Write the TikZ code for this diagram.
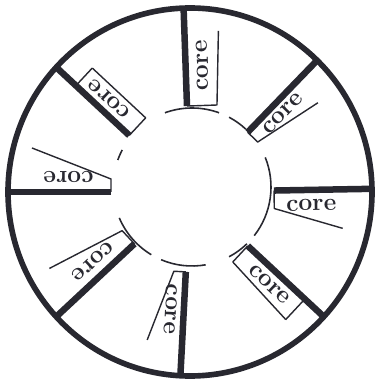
\documentclass[tikz,border=0pt]{standalone}
\usepackage{tikz}
\usetikzlibrary{calc}
\definecolor{ink}{RGB}{40, 40, 48}

\begin{document}
\begin{tikzpicture}[
    x=0.02cm, y=0.02cm,
    rim/.style={draw=ink, line width=3.2pt},
    spoke/.style={draw=ink, line width=3.7pt},
    hub/.style={draw=ink, line width=0.9pt},
    strip/.style={draw=ink, line width=0.8pt, line join=round},
    word/.style={font=\fontsize{14}{14}\selectfont\bfseries, text=ink, inner sep=0pt}
]
\useasboundingbox (0,0) rectangle (382,385);

\coordinate (oc) at (190,193);
\coordinate (ic) at (192,198);

%% ── RIM ─────────────────────────────────────────────────────────────────────
\draw[rim] (oc) ellipse [x radius=182, y radius=184];

%% ── HUB (broken inner circle) ───────────────────────────────────────────────
\foreach \sa/\ea in {70/110, 47/62, -38/22, -62/-46, -113/-80, -157/-121, 152/160}
  \draw[hub] ($(ic)+(\sa:79)$) arc[start angle=\sa, end angle=\ea, radius=79];

%% ── SPOKES + LABEL STRIPS ───────────────────────────────────────────────────
% angle / inner r / strip end / inner width / outer width / closed
\foreach \a/\r/\e/\wa/\wb/\c [count=\i] in {
    92/86/160/30/34/0,
    46/83/153/14/30/0,
    1/84/152/18/39/0,
    -43/79/157/22/28/1,
    -93/80/150/12/35/0,
    -137/76/155/18/40/0,
    180/79/158/13/44/0,
    137/83/156/24/24/1} {
  \coordinate (s\i) at ($(oc)+(\a:\r)$);
  \coordinate (t\i) at ($(oc)+(\a:183)$);
  \draw[spoke] (s\i) -- (t\i);
  \draw[strip] (s\i) -- ($(s\i)+(\a-90:\wa)$) -- ($(oc)+(\a:\e)+(\a-90:\wb)$);
  \ifnum\c=1
    \draw[strip] ($(oc)+(\a:\e)+(\a-90:\wb)$) -- ($(oc)+(\a:\e)$);
  \fi
  \node[word, rotate=\a] (core\i)
       at ($(oc)+(\a:{(\r+\e)/2+3})+(\a-90:{(\wa+\wb)/4+1})$) {core};
}

\end{tikzpicture}
\end{document}
